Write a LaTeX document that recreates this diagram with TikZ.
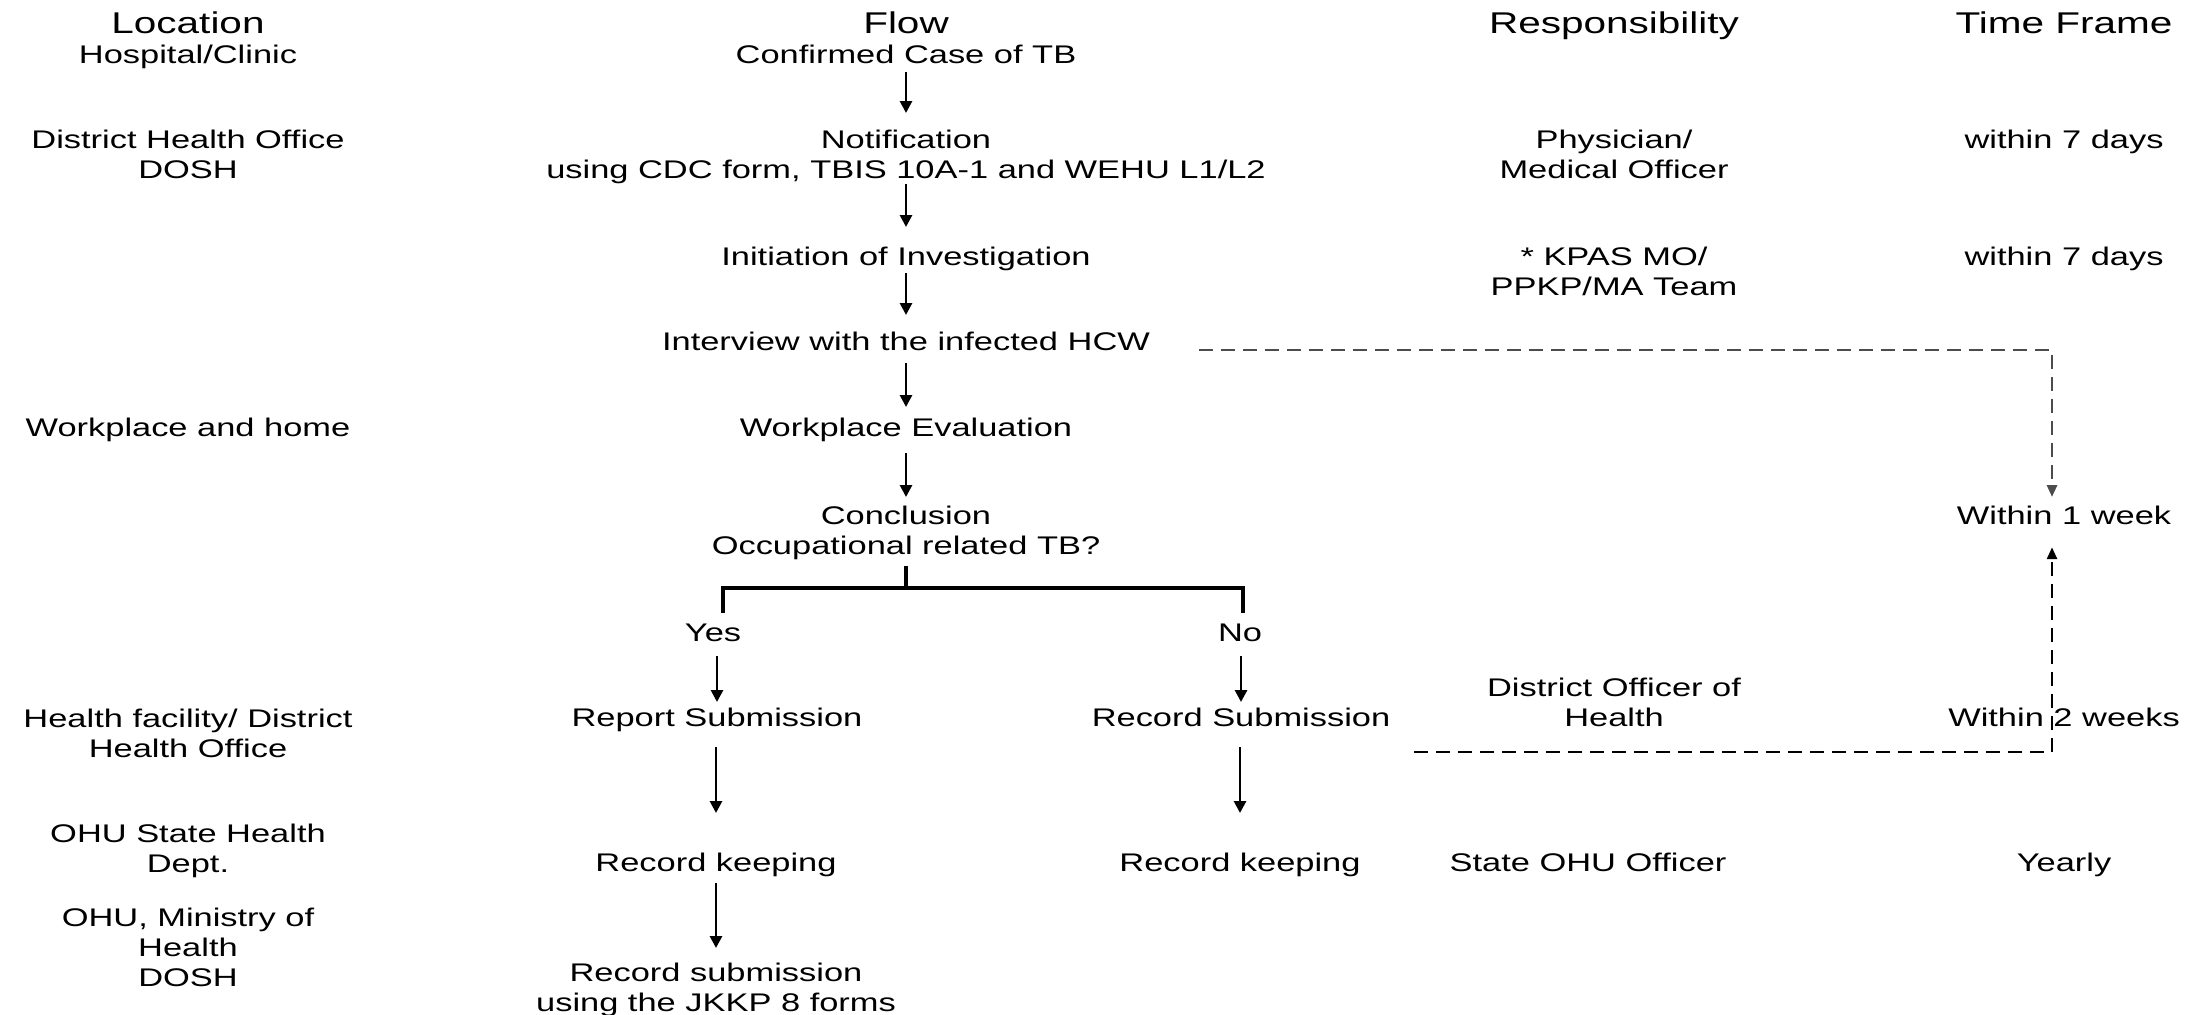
\documentclass[tikz,border=0pt]{standalone}
\usepackage{fontspec}
\setmainfont{Liberation Sans}[FakeStretch=1.35]
\usetikzlibrary{arrows.meta,calc}
\tikzset{
  txt/.style={inner sep=0pt, outer sep=0pt, align=center, anchor=north, font=\fontsize{12.75pt}{15pt}\selectfont},
  hdr/.style={inner sep=0pt, outer sep=0pt, align=center, anchor=north, font=\fontsize{15pt}{18pt}\selectfont},
  arr/.style={line width=1.4pt, -{Triangle[length=6pt,width=6pt]}},
  conn/.style={line width=1.6pt},
  dsh/.style={line width=1.4pt, dash pattern=on 7pt off 4pt, -{Triangle[length=6pt,width=5pt]}},
}
\begin{document}
\begin{tikzpicture}[x=0.5pt,y=-0.5pt]
\useasboundingbox (0,0) rectangle (2189,1014);
% headers
\node[hdr] (hloc)  at (188,12)  {Location};
\node[hdr] (hflow) at (906,12)  {Flow};
\node[hdr] (hresp) at (1614,12) {Responsibility};
\node[hdr] (htime) at (2064,12) {Time Frame};
% location column
\node[txt] (l1) at (188,45.5)  {Hospital/Clinic};
\node[txt] (l2) at (188,130.5) {District Health Office\\DOSH};
\node[txt] (l3) at (188,418.5) {Workplace and home};
\node[txt] (l4) at (188,709)   {Health facility/ District\\Health Office};
\node[txt] (l5) at (188,824.5) {OHU State Health\\Dept.};
\node[txt] (l6) at (188,908.5) {OHU, Ministry of\\Health\\DOSH};
% flow column
\node[txt] (cc)    at (906,45.5)  {Confirmed Case of TB};
\node[txt] (notif) at (906,130.5) {Notification\\using CDC form, TBIS 10A-1 and WEHU L1/L2};
\node[txt] (init)  at (906,247.5) {Initiation of Investigation};
\node[txt] (intv)  at (906,332.5) {Interview with the infected HCW};
\node[txt] (we)    at (906,418.5) {Workplace Evaluation};
\node[txt] (concl) at (906,506.5) {Conclusion\\Occupational related TB?};
\node[txt] (yes)   at (713,623.5) {Yes};
\node[txt] (no)    at (1240,623.5) {No};
\node[txt] (rs)    at (717,708.5) {Report Submission};
\node[txt] (recs)  at (1241,708.5) {Record Submission};
\node[txt] (rk1)   at (716,853.5) {Record keeping};
\node[txt] (rk2)   at (1240,853.5) {Record keeping};
\node[txt] (rsub)  at (716,963.5) {Record submission\\using the JKKP 8 forms};
% responsibility column
\node[txt] (r1) at (1614,130.5) {Physician/\\Medical Officer};
\node[txt] (r2) at (1614,247)   {* KPAS MO/\\PPKP/MA Team};
\node[txt] (r3) at (1614,678.5) {District Officer of\\Health};
\node[txt] (r4) at (1588,853.5) {State OHU Officer};
% time frame column
\node[txt] (t1) at (2064,130.5) {within 7 days};
\node[txt] (t2) at (2064,247)   {within 7 days};
\node[txt] (w1) at (2064,506.5) {Within 1 week};
\node[txt] (t4) at (2064,708.5) {Within 2 weeks};
\node[txt] (t5) at (2064,853.5) {Yearly};
% main flow arrows
\draw[arr, shorten <=4pt,   shorten >=8.75pt]  (cc.south)    -- (notif.north);
\draw[arr, shorten <=0pt,   shorten >=10.25pt] (notif.south) -- (init.north);
\draw[arr, shorten <=0.8pt, shorten >=8.75pt]  (init.south)  -- (intv.north);
\draw[arr, shorten <=6pt,   shorten >=5.75pt]  (intv.south)  -- (we.north);
\draw[arr, shorten <=5.3pt, shorten >=4.75pt]  (we.south)    -- (concl.north);
% branch
\coordinate (bj) at (906,588);
\coordinate (bl) at (723,588);
\coordinate (br) at (1243,588);
\draw[conn, shorten <=2.8pt] (concl.south) -- (bj);
\draw[conn, shorten <=5.5pt, shorten >=5.5pt] (bl |- yes.north) -- (bl) -- (br) -- (br |- no.north);
\draw[arr, shorten <=7.5pt, shorten >=3.25pt] (rs.north |- yes.south) -- (rs.north);
\draw[arr, shorten <=7.5pt, shorten >=3.25pt] (recs.north |- no.south) -- (recs.north);
\draw[arr, shorten <=7.3pt, shorten >=20.25pt] (rk1.north |- rs.south) -- (rk1.north);
\draw[arr, shorten <=10pt, shorten >=20.25pt] (rk2.north |- recs.south) -- (rk2.north);
\draw[arr, shorten <=2.8pt, shorten >=7.75pt] (rk1.south) -- (rsub.north);
% dashed connectors
\coordinate (c1) at (2052,350);
\coordinate (c2) at (2052,752);
\draw[dsh, draw=black!70, shorten <=24.5pt, shorten >=4.75pt] (intv.east |- c1) -- (c1) -- (c1 |- w1.north);
\draw[dsh, shorten <=12pt, shorten >=11pt] (recs.east |- c2) -- (c2) -- (c2 |- w1.south);
\end{tikzpicture}
\end{document}
